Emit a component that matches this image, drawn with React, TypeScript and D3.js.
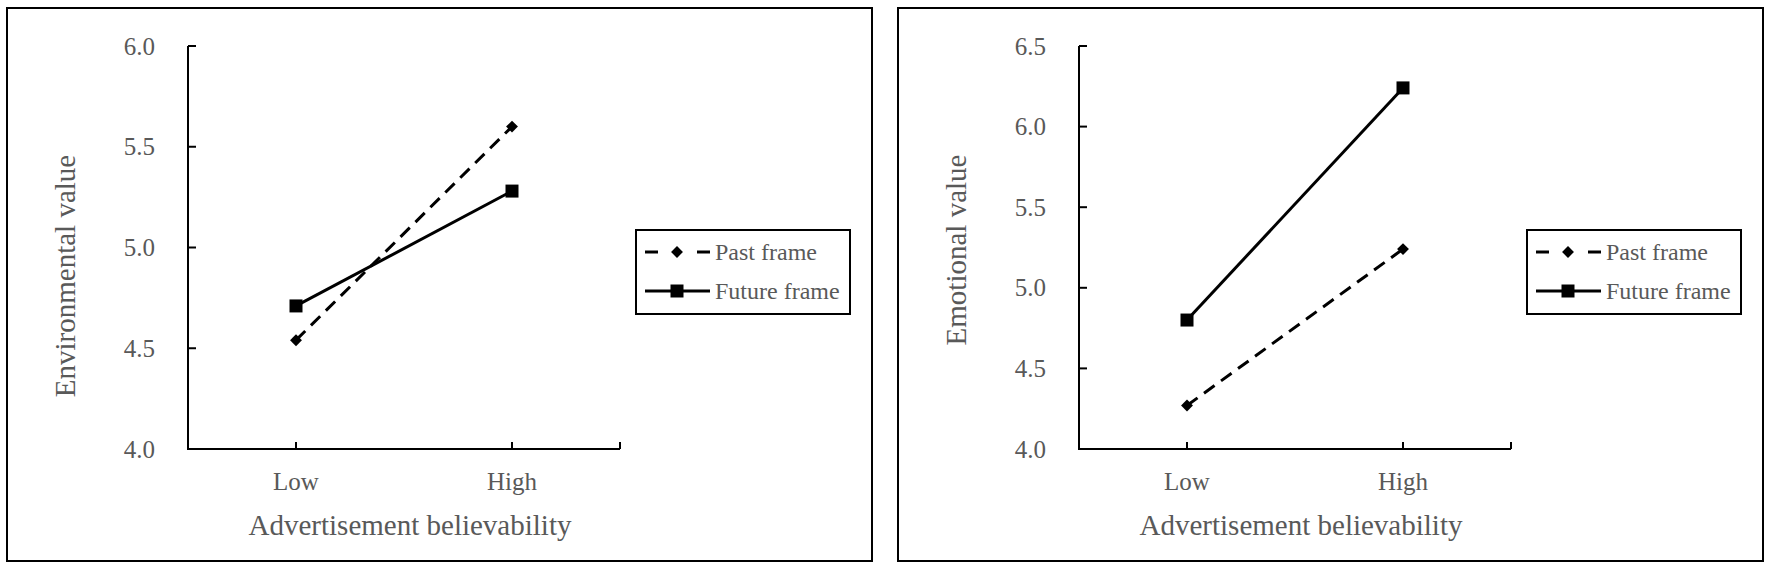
import React, { useEffect, useRef } from "react";
import * as d3 from "d3";

// categories and series values
const categories = ["Low", "High"];
const seriesNames = ["Past frame", "Future frame"];

const envPast = [4.54, 5.6];
const envFuture = [4.71, 5.28];
const envTicks = [4.0, 4.5, 5.0, 5.5, 6.0];

const emoPast = [4.27, 5.24];
const emoFuture = [4.8, 6.24];
const emoTicks = [4.0, 4.5, 5.0, 5.5, 6.0, 6.5];

const xTitle = "Advertisement believability";

const FONT = "'Liberation Serif', 'Times New Roman', serif";
const TEXT = "#595959";

function drawPanel(svg, opts) {
  const { x0, yTitle, yTitleCy, ticks, past, future } = opts;
  const g = svg.append("g").attr("transform", `translate(${x0},0)`);

  // panel frame
  g.append("rect")
    .attr("x", 0)
    .attr("y", 8)
    .attr("width", 865)
    .attr("height", 553)
    .attr("fill", "white")
    .attr("stroke", "black")
    .attr("stroke-width", 2);

  const left = 181;
  const right = 613;
  const top = 46;
  const bottom = 449;

  const x = d3.scalePoint().domain(categories).range([left, right]).padding(0.5);
  const y = d3.scaleLinear()
    .domain([d3.min(ticks), d3.max(ticks)])
    .range([bottom, top]);

  // y axis
  g.append("line")
    .attr("x1", left).attr("x2", left)
    .attr("y1", top).attr("y2", bottom)
    .attr("stroke", "black").attr("stroke-width", 2);
  g.selectAll("line.ytick")
    .data(ticks)
    .enter()
    .append("line")
    .attr("class", "ytick")
    .attr("x1", left).attr("x2", left + 8)
    .attr("y1", d => y(d)).attr("y2", d => y(d))
    .attr("stroke", "black").attr("stroke-width", 2);
  g.selectAll("text.ylab")
    .data(ticks)
    .enter()
    .append("text")
    .attr("class", "ylab")
    .attr("x", left - 33)
    .attr("y", d => y(d))
    .attr("dy", "0.34em")
    .attr("text-anchor", "end")
    .attr("font-family", FONT)
    .attr("font-size", 25)
    .attr("fill", TEXT)
    .text(d => d3.format(".1f")(d));

  // x axis
  g.append("line")
    .attr("x1", left - 1).attr("x2", right)
    .attr("y1", bottom).attr("y2", bottom)
    .attr("stroke", "black").attr("stroke-width", 2);
  const xTickPos = categories.map(c => x(c)).concat([right]);
  g.selectAll("line.xtick")
    .data(xTickPos)
    .enter()
    .append("line")
    .attr("class", "xtick")
    .attr("x1", d => d).attr("x2", d => d)
    .attr("y1", bottom).attr("y2", bottom - 7)
    .attr("stroke", "black").attr("stroke-width", 2);
  g.selectAll("text.xlab")
    .data(categories)
    .enter()
    .append("text")
    .attr("class", "xlab")
    .attr("x", d => x(d))
    .attr("y", 490)
    .attr("text-anchor", "middle")
    .attr("font-family", FONT)
    .attr("font-size", 25)
    .attr("fill", TEXT)
    .text(d => d);

  // axis titles
  g.append("text")
    .attr("x", 403)
    .attr("y", 535)
    .attr("text-anchor", "middle")
    .attr("font-family", FONT)
    .attr("font-size", 29)
    .attr("fill", TEXT)
    .text(xTitle);
  g.append("text")
    .attr("transform", `translate(${68},${yTitleCy}) rotate(-90)`)
    .attr("text-anchor", "middle")
    .attr("font-family", FONT)
    .attr("font-size", 29)
    .attr("fill", TEXT)
    .text(yTitle);

  const line = d3.line()
    .x((d, i) => x(categories[i]))
    .y(d => y(d));

  const diamond = d3.symbol().type(d3.symbolDiamond2).size(90);
  const square = d3.symbol().type(d3.symbolSquare).size(169);

  // past frame: dashed with diamonds
  g.append("path")
    .datum(past)
    .attr("fill", "none")
    .attr("stroke", "black")
    .attr("stroke-width", 3)
    .attr("stroke-dasharray", "13,8")
    .attr("d", line);
  g.selectAll("path.pastpt")
    .data(past)
    .enter()
    .append("path")
    .attr("class", "pastpt")
    .attr("transform", (d, i) => `translate(${x(categories[i])},${y(d)})`)
    .attr("d", diamond)
    .attr("fill", "black");

  // future frame: solid with squares
  g.append("path")
    .datum(future)
    .attr("fill", "none")
    .attr("stroke", "black")
    .attr("stroke-width", 3)
    .attr("d", line);
  g.selectAll("path.futpt")
    .data(future)
    .enter()
    .append("path")
    .attr("class", "futpt")
    .attr("transform", (d, i) => `translate(${x(categories[i])},${y(d)})`)
    .attr("d", square)
    .attr("fill", "black");

  // legend
  const lg = g.append("g").attr("transform", "translate(629,230)");
  lg.append("rect")
    .attr("width", 214)
    .attr("height", 84)
    .attr("fill", "white")
    .attr("stroke", "black")
    .attr("stroke-width", 2);
  const rows = lg.selectAll("g.row")
    .data(seriesNames)
    .enter()
    .append("g")
    .attr("class", "row")
    .attr("transform", (d, i) => `translate(0,${22 + i * 39})`);
  rows.each(function (d, i) {
    const r = d3.select(this);
    if (i === 0) {
      r.append("line").attr("x1", 9).attr("x2", 22).attr("y1", 0).attr("y2", 0)
        .attr("stroke", "black").attr("stroke-width", 3);
      r.append("line").attr("x1", 61).attr("x2", 74).attr("y1", 0).attr("y2", 0)
        .attr("stroke", "black").attr("stroke-width", 3);
      r.append("path").attr("transform", "translate(41,0)").attr("d", diamond).attr("fill", "black");
    } else {
      r.append("line").attr("x1", 9).attr("x2", 74).attr("y1", 0).attr("y2", 0)
        .attr("stroke", "black").attr("stroke-width", 3);
      r.append("path").attr("transform", "translate(41,0)").attr("d", square).attr("fill", "black");
    }
    r.append("text")
      .attr("x", 79)
      .attr("y", 0)
      .attr("dy", "0.33em")
      .attr("font-family", FONT)
      .attr("font-size", 24)
      .attr("fill", TEXT)
      .text(d);
  });
}

export default function App() {
  const ref = useRef(null);

  useEffect(() => {
    const svg = d3.select(ref.current);
    svg.selectAll("*").remove();

    drawPanel(svg, {
      x0: 7,
      yTitle: "Environmental value",
      yTitleCy: 276,
      ticks: envTicks,
      past: envPast,
      future: envFuture,
    });
    drawPanel(svg, {
      x0: 898,
      yTitle: "Emotional value",
      yTitleCy: 250,
      ticks: emoTicks,
      past: emoPast,
      future: emoFuture,
    });
  }, []);

  return (
    <svg
      ref={ref}
      width={1772}
      height={569}
      style={{ position: "absolute", left: 0, top: 0, background: "white" }}
    />
  );
}
